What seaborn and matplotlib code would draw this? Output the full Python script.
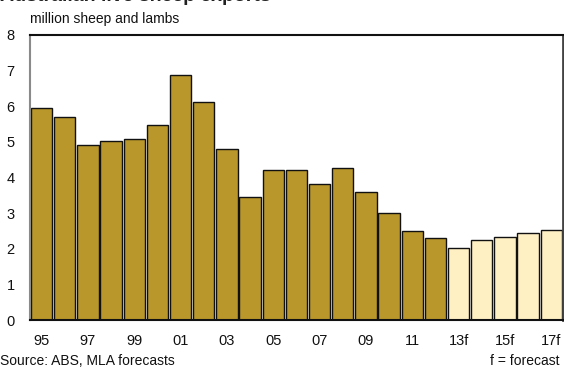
import matplotlib
matplotlib.use("Agg")
import matplotlib.pyplot as plt
import seaborn as sns
import pandas as pd

# Financial years and live sheep exports (million head); f = forecast
years = ["95", "96", "97", "98", "99", "00", "01", "02", "03", "04", "05", "06",
         "07", "08", "09", "10", "11", "12", "13f", "14f", "15f", "16f", "17f"]
exports = [5.95, 5.69, 4.92, 5.03, 5.07, 5.47, 6.87, 6.11, 4.79, 3.44, 4.22, 4.21,
           3.81, 4.26, 3.60, 3.00, 2.49, 2.30, 2.02, 2.24, 2.33, 2.44, 2.53]
status = ["actual"] * 18 + ["forecast"] * 5
tick_labels = ["95", "97", "99", "01", "03", "05", "07", "09", "11", "13f", "15f", "17f"]
y_ticks = [0, 1, 2, 3, 4, 5, 6, 7, 8]

df = pd.DataFrame({"year": years, "exports": exports, "status": status})

sns.set_theme(style="white")
plt.rcParams["font.family"] = ["Liberation Sans", "DejaVu Sans"]

fig = plt.figure(figsize=(5.64, 3.67), dpi=100)
ax = fig.add_axes([0.0532, 0.128, 0.9448, 0.7774])

sns.barplot(data=df, x="year", y="exports", hue="status", order=years,
            palette={"actual": "#B9972A", "forecast": "#FFF0C4"},
            saturation=1, dodge=False, width=0.92, edgecolor="#111111",
            linewidth=1.0, legend=False, ax=ax)

ax.set_xlim(-0.5, len(years) - 0.5)
ax.set_ylim(0, 8)
ax.set_yticks(y_ticks)
ax.set_yticklabels([str(t) for t in y_ticks], fontsize=10.5, color="#111111")
ax.set_xticks(range(0, len(years), 2))
ax.set_xticklabels(tick_labels, fontsize=10.5, color="#111111")
ax.tick_params(axis="both", length=0)
ax.tick_params(axis="y", pad=11)
ax.tick_params(axis="x", pad=10)
ax.set_xlabel("")
ax.set_ylabel("")

ax.spines["left"].set_color("#8a8a8a")
ax.spines["left"].set_linewidth(1.5)
ax.spines["bottom"].set_color("#111111")
ax.spines["bottom"].set_linewidth(1.5)
ax.spines["top"].set_color("#111111")
ax.spines["top"].set_linewidth(1.5)
ax.spines["right"].set_color("#444444")
ax.spines["right"].set_linewidth(2.0)

fig.text(0.0, 0.997, "Australian live sheep exports", fontsize=14,
         fontweight="bold", color="#222222", ha="left", va="baseline")
fig.text(0.0532, 0.948, "million sheep and lambs", fontsize=10,
         color="#111111", ha="left", va="center")
fig.text(0.0, 0.016, "Source: ABS, MLA forecasts", fontsize=10,
         color="#111111", ha="left", va="center")
fig.text(0.992, 0.016, "f = forecast", fontsize=10,
         color="#111111", ha="right", va="center")

fig.savefig("out.png", dpi=100)
